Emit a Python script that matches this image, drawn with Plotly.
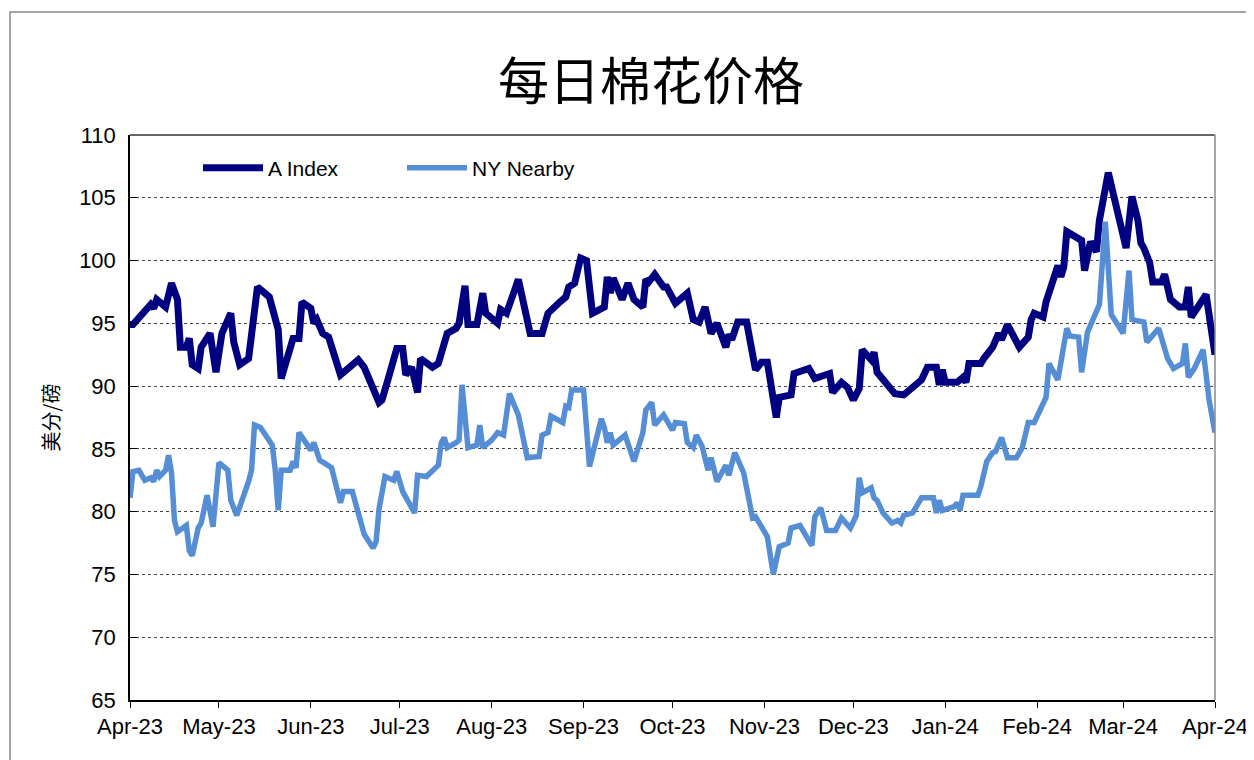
import plotly.graph_objects as go

# ---------------- data ----------------
a_dates = [
    "2023-04-01", "2023-04-02", "2023-04-08", "2023-04-09", "2023-04-10", "2023-04-13", "2023-04-15",
    "2023-04-17", "2023-04-18", "2023-04-20", "2023-04-21", "2023-04-22", "2023-04-24", "2023-04-25",
    "2023-04-28", "2023-04-30", "2023-05-02", "2023-05-05", "2023-05-06", "2023-05-08", "2023-05-11",
    "2023-05-14", "2023-05-18", "2023-05-21", "2023-05-22", "2023-05-26", "2023-05-28", "2023-05-29",
    "2023-06-01", "2023-06-02", "2023-06-03", "2023-06-05", "2023-06-07", "2023-06-11", "2023-06-17",
    "2023-06-19", "2023-06-24", "2023-06-25", "2023-06-27", "2023-06-30", "2023-07-02", "2023-07-03",
    "2023-07-05", "2023-07-07", "2023-07-08", "2023-07-12", "2023-07-14", "2023-07-15", "2023-07-17",
    "2023-07-20", "2023-07-21", "2023-07-23", "2023-07-24", "2023-07-27", "2023-07-29", "2023-07-30",
    "2023-08-03", "2023-08-04", "2023-08-06", "2023-08-10", "2023-08-12", "2023-08-13", "2023-08-14",
    "2023-08-18", "2023-08-20", "2023-08-24", "2023-08-26", "2023-08-27", "2023-08-29", "2023-08-31",
    "2023-09-02", "2023-09-04", "2023-09-08", "2023-09-09", "2023-09-10", "2023-09-11", "2023-09-14",
    "2023-09-16", "2023-09-18", "2023-09-21", "2023-09-22", "2023-09-23", "2023-09-25", "2023-09-28",
    "2023-09-29", "2023-10-02", "2023-10-06", "2023-10-08", "2023-10-10", "2023-10-12", "2023-10-14",
    "2023-10-16", "2023-10-19", "2023-10-20", "2023-10-21", "2023-10-23", "2023-10-26", "2023-10-29",
    "2023-10-31", "2023-11-02", "2023-11-05", "2023-11-06", "2023-11-10", "2023-11-11", "2023-11-16",
    "2023-11-18", "2023-11-23", "2023-11-24", "2023-11-27", "2023-11-29", "2023-12-01", "2023-12-03",
    "2023-12-04", "2023-12-07", "2023-12-08", "2023-12-09", "2023-12-11", "2023-12-15", "2023-12-18",
    "2023-12-24", "2023-12-26", "2023-12-29", "2023-12-30", "2023-12-31", "2024-01-01", "2024-01-05",
    "2024-01-07", "2024-01-08", "2024-01-09", "2024-01-13", "2024-01-14", "2024-01-17", "2024-01-19",
    "2024-01-20", "2024-01-22", "2024-01-24", "2024-01-26", "2024-01-29", "2024-01-30", "2024-01-31",
    "2024-02-03", "2024-02-04", "2024-02-07", "2024-02-08", "2024-02-09", "2024-02-10", "2024-02-11",
    "2024-02-14", "2024-02-16", "2024-02-17", "2024-02-19", "2024-02-21", "2024-02-22", "2024-02-25",
    "2024-02-26", "2024-03-01", "2024-03-02", "2024-03-04", "2024-03-06", "2024-03-07", "2024-03-08",
    "2024-03-10", "2024-03-11", "2024-03-14", "2024-03-15", "2024-03-17", "2024-03-20", "2024-03-22",
    "2024-03-23", "2024-03-24", "2024-03-26", "2024-03-29", "2024-04-01",
]
a_index = [
    94.9, 94.9, 96.5, 96.2, 96.9, 96.3, 98.2,
    96.9, 93.1, 93.1, 93.8, 91.7, 91.4, 93.1,
    94.2, 91.1, 94.2, 95.8, 93.5, 91.7, 92.2,
    97.9, 97.1, 94.5, 90.6, 93.8, 93.8, 96.7,
    96.2, 95.0, 95.3, 94.2, 93.9, 90.9, 92.1,
    91.5, 88.7, 88.9, 90.5, 93.0, 93.0, 90.9,
    91.5, 89.5, 92.2, 91.5, 91.8, 92.6, 94.2,
    94.6, 95.0, 98.0, 94.9, 94.9, 97.4, 95.8,
    95.0, 96.1, 95.8, 98.5, 96.3, 95.3, 94.2,
    94.2, 95.8, 96.7, 97.1, 97.9, 98.2, 100.2,
    100.0, 95.8, 96.3, 98.7, 97.4, 98.6, 96.9,
    98.2, 96.9, 96.3, 98.5, 98.3, 98.9, 97.9,
    97.9, 96.6, 97.4, 95.3, 95.1, 96.3, 94.2,
    95.0, 93.1, 94.1, 93.7, 95.1, 95.1, 91.3,
    91.9, 91.9, 87.5, 89.1, 89.3, 91.0, 91.4,
    90.6, 91.0, 89.5, 90.3, 89.9, 88.9, 89.8,
    92.9, 92.1, 92.7, 91.1, 90.6, 89.4, 89.3,
    90.5, 91.5, 91.5, 90.1, 91.3, 90.3, 90.3,
    90.7, 90.3, 91.8, 91.8, 92.2, 93.1, 94.2,
    93.7, 94.9, 94.0, 93.1, 93.9, 95.3, 95.8,
    95.5, 96.7, 98.7, 99.6, 98.7, 99.5, 102.3,
    101.8, 101.6, 99.2, 101.5, 100.7, 103.2, 107.0,
    105.9, 101.6, 101.0, 105.1, 103.2, 101.4, 101.0,
    99.8, 98.3, 98.3, 98.9, 96.9, 96.3, 96.3,
    97.9, 95.5, 96.3, 97.3, 92.5,
]

ny_dates = [
    "2023-04-01", "2023-04-02", "2023-04-04", "2023-04-06", "2023-04-08", "2023-04-09", "2023-04-10",
    "2023-04-11", "2023-04-13", "2023-04-14", "2023-04-15", "2023-04-16", "2023-04-17", "2023-04-20",
    "2023-04-21", "2023-04-22", "2023-04-24", "2023-04-25", "2023-04-27", "2023-04-29", "2023-05-01",
    "2023-05-04", "2023-05-05", "2023-05-07", "2023-05-11", "2023-05-12", "2023-05-13", "2023-05-15",
    "2023-05-19", "2023-05-20", "2023-05-21", "2023-05-22", "2023-05-25", "2023-05-26", "2023-05-27",
    "2023-05-28", "2023-06-01", "2023-06-02", "2023-06-04", "2023-06-08", "2023-06-11", "2023-06-12",
    "2023-06-15", "2023-06-17", "2023-06-19", "2023-06-22", "2023-06-23", "2023-06-24", "2023-06-26",
    "2023-06-29", "2023-06-30", "2023-07-02", "2023-07-05", "2023-07-06", "2023-07-07", "2023-07-10",
    "2023-07-14", "2023-07-15", "2023-07-16", "2023-07-17", "2023-07-20", "2023-07-21", "2023-07-22",
    "2023-07-24", "2023-07-27", "2023-07-28", "2023-07-29", "2023-08-01", "2023-08-03", "2023-08-05",
    "2023-08-07", "2023-08-10", "2023-08-13", "2023-08-17", "2023-08-18", "2023-08-20", "2023-08-21",
    "2023-08-25", "2023-08-26", "2023-08-27", "2023-08-28", "2023-09-01", "2023-09-03", "2023-09-07",
    "2023-09-08", "2023-09-09", "2023-09-10", "2023-09-11", "2023-09-15", "2023-09-18", "2023-09-21",
    "2023-09-22", "2023-09-24", "2023-09-25", "2023-09-28", "2023-10-01", "2023-10-02", "2023-10-05",
    "2023-10-06", "2023-10-08", "2023-10-09", "2023-10-11", "2023-10-13", "2023-10-14", "2023-10-16",
    "2023-10-19", "2023-10-20", "2023-10-22", "2023-10-25", "2023-10-28", "2023-10-29", "2023-11-02",
    "2023-11-04", "2023-11-06", "2023-11-09", "2023-11-10", "2023-11-13", "2023-11-17", "2023-11-18",
    "2023-11-20", "2023-11-22", "2023-11-25", "2023-11-27", "2023-11-30", "2023-12-02", "2023-12-03",
    "2023-12-04", "2023-12-07", "2023-12-08", "2023-12-09", "2023-12-11", "2023-12-14", "2023-12-16",
    "2023-12-17", "2023-12-18", "2023-12-21", "2023-12-24", "2023-12-28", "2023-12-29", "2023-12-30",
    "2023-12-31", "2024-01-04", "2024-01-05", "2024-01-06", "2024-01-07", "2024-01-12", "2024-01-13",
    "2024-01-15", "2024-01-17", "2024-01-18", "2024-01-20", "2024-01-22", "2024-01-25", "2024-01-27",
    "2024-01-29", "2024-01-31", "2024-02-02", "2024-02-04", "2024-02-05", "2024-02-08", "2024-02-11",
    "2024-02-12", "2024-02-15", "2024-02-16", "2024-02-18", "2024-02-20", "2024-02-22", "2024-02-24",
    "2024-02-26", "2024-03-01", "2024-03-03", "2024-03-04", "2024-03-08", "2024-03-09", "2024-03-13",
    "2024-03-16", "2024-03-18", "2024-03-21", "2024-03-22", "2024-03-23", "2024-03-25", "2024-03-28",
    "2024-03-30", "2024-04-01",
]
ny_nearby = [
    81.1, 83.2, 83.3, 82.5, 82.7, 82.4, 83.3,
    82.8, 83.3, 84.5, 83.1, 79.3, 78.4, 78.9,
    76.9, 76.5, 78.7, 79.1, 81.3, 78.8, 83.9,
    83.3, 80.9, 79.7, 82.4, 83.3, 86.9, 86.7,
    85.3, 83.3, 80.1, 83.3, 83.3, 84.0, 83.5,
    86.3, 84.9, 85.5, 84.1, 83.5, 80.7, 81.6,
    81.6, 80.0, 78.2, 77.1, 77.6, 80.2, 82.8,
    82.5, 83.2, 81.6, 80.4, 79.9, 82.9, 82.8,
    83.7, 85.5, 85.9, 85.1, 85.5, 85.7, 90.1,
    85.1, 85.3, 86.9, 85.1, 85.7, 86.3, 86.1,
    89.4, 87.7, 84.3, 84.4, 86.1, 86.3, 87.6,
    87.1, 88.4, 88.3, 89.7, 89.7, 83.6, 87.4,
    86.7, 85.5, 86.3, 85.3, 86.1, 84.0, 86.3,
    88.1, 88.7, 86.9, 87.7, 86.5, 87.1, 87.0,
    85.5, 85.1, 86.1, 85.2, 83.3, 84.3, 82.4,
    83.7, 82.9, 84.7, 83.1, 79.5, 79.6, 78.0,
    75.0, 77.2, 77.5, 78.7, 78.9, 77.3, 79.6,
    80.3, 78.5, 78.5, 79.5, 78.7, 79.7, 82.7,
    81.5, 81.9, 81.1, 80.9, 79.9, 79.1, 79.3,
    79.1, 79.7, 79.9, 81.1, 81.1, 79.9, 80.9,
    80.1, 80.4, 80.7, 80.1, 81.3, 81.3, 82.0,
    84.0, 84.7, 84.8, 85.9, 84.3, 84.3, 85.1,
    87.1, 87.1, 88.1, 89.1, 91.8, 90.5, 94.6,
    94.0, 93.9, 91.1, 94.3, 95.3, 96.5, 103.1,
    95.7, 94.2, 99.2, 95.3, 95.1, 93.5, 94.6,
    92.2, 91.4, 91.8, 93.4, 90.7, 91.4, 92.9,
    88.9, 86.3,
]

title_text = "每日棉花价格"
y_title = "美分/磅"
y_ticks = [65, 70, 75, 80, 85, 90, 95, 100, 105, 110]

# ---------------- figure ----------------
# the page body has an 8px margin, so the figure is drawn 8px in from the page edge
OFF = 8
W, H = 1254 - OFF, 760 - OFF
PL, PT, PR, PB = 130, 135, 1215, 700          # plot-area edges in page pixels
L, T = PL - OFF, PT - OFF
R, B = W - (PR - OFF), H - (PB - OFF)
pw, ph = W - L - R, H - T - B

def px_x(x):
    return (x - OFF - L) / pw

def px_y(y):
    return (H - B - (y - OFF)) / ph

fig = go.Figure()
fig.add_trace(go.Scatter(x=a_dates, y=a_index, mode="lines", name="A Index",
                         line=dict(color="#000080", width=7)))
fig.add_trace(go.Scatter(x=ny_dates, y=ny_nearby, mode="lines", name="NY Nearby",
                         line=dict(color="#558ED5", width=5.5)))

x_font = dict(family="Liberation Sans, Arial, sans-serif", size=22, color="#000000")
y_font = dict(family="Liberation Sans, Arial, sans-serif", size=22, color="#000000")

fig.update_layout(
    width=W, height=H,
    margin=dict(l=L, r=R, t=T, b=B, autoexpand=False),
    paper_bgcolor="#FFFFFF", plot_bgcolor="#FFFFFF",
    showlegend=True,
    legend=dict(orientation="h", x=px_x(198), y=px_y(168), xanchor="left", yanchor="middle",
                font=dict(family="Liberation Sans, Arial, sans-serif", size=21, color="#000000"),
                bgcolor="rgba(0,0,0,0)", entrywidth=129, itemwidth=60),
    xaxis=dict(type="date", range=["2023-04-01", "2024-04-01"],
               tick0="2023-04-01", dtick="M1", tickformat="%b-%y",
               ticks="outside", ticklen=6, tickcolor="#000000", automargin=False,
               showline=True, linecolor="#000000", linewidth=1.5,
               showgrid=False, zeroline=False, tickfont=x_font),
    yaxis=dict(range=[65, 110], tickvals=y_ticks, ticks="inside", ticklen=7, tickcolor="#000000",
               showline=True, linecolor="#000000", linewidth=1.5, automargin=False,
               showgrid=True, gridcolor="#444444", gridwidth=1, griddash="dot",
               zeroline=False, tickfont=y_font, ticklabelstandoff=8,
               title=dict(text=y_title, font=dict(family="Noto Sans CJK SC, sans-serif", size=20,
                                                  color="#000000"), standoff=14)),
)

# title
fig.add_annotation(text=title_text, xref="paper", yref="paper", x=px_x(651), y=px_y(78),
                   xanchor="center", yanchor="middle", showarrow=False,
                   font=dict(family="Noto Sans CJK SC, sans-serif", size=51, color="#000000"))

# plot-area top/right border
fig.add_shape(type="line", xref="paper", yref="paper", x0=0, x1=1, y0=1, y1=1,
              line=dict(color="#333333", width=1.5))
fig.add_shape(type="line", xref="paper", yref="paper", x0=1, x1=1, y0=0, y1=1,
              line=dict(color="#888888", width=1.5))
# outer chart border
fig.add_shape(type="rect", xref="paper", yref="paper",
              x0=px_x(10), x1=px_x(1252), y0=px_y(12), y1=px_y(775),
              line=dict(color="#888888", width=1.5), fillcolor="rgba(0,0,0,0)", layer="below")

fig.write_html("out.html")
